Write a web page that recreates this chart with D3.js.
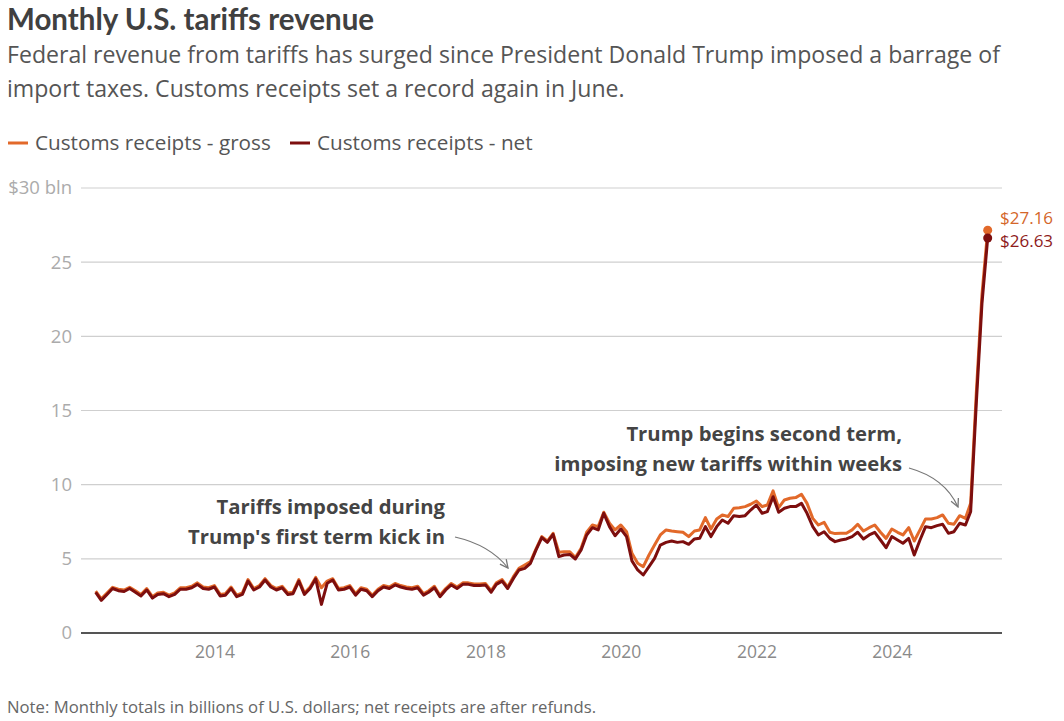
<!DOCTYPE html>
<html>
<head>
<meta charset="utf-8">
<script src="https://cdn.jsdelivr.net/npm/d3@7"></script>
<style>
  body { margin: 0; background: #fff; }
  svg { display: block; font-family: "Open Sans", "Noto Sans", sans-serif; }
</style>
</head>
<body>
<div id="chart"></div>
<script>
// monthly values, April 2012 .. June 2025, billions of dollars
const startMonth = new Date(2012, 3, 1);

const netReceipts = [
  2.74, 2.2, 2.6, 3.0, 2.85, 2.8, 3.0, 2.75, 2.5, 2.9,
  2.35, 2.6, 2.65, 2.45, 2.6, 2.95, 2.95, 3.05, 3.28, 3.0,
  2.95, 3.1, 2.5, 2.55, 3.0, 2.45, 2.6, 3.5, 2.9, 3.1,
  3.57, 3.1, 2.9, 3.05, 2.6, 2.65, 3.5, 2.6, 3.0, 3.65,
  1.93, 3.35, 3.57, 2.9, 2.95, 3.1, 2.55, 2.95, 2.85, 2.45,
  2.85, 3.1, 3.0, 3.24, 3.1, 3.0, 2.95, 3.05, 2.55, 2.75,
  3.05, 2.45, 2.9, 3.24, 3.0, 3.28, 3.28, 3.2, 3.2, 3.24,
  2.75, 3.28, 3.5, 3.0, 3.68,
  4.25, 4.36, 4.70, 5.60, 6.43, 6.11, 6.65, 5.15, 5.26, 5.30,
  4.99, 5.60, 6.61, 7.10, 6.95, 8.07, 7.17, 6.56, 7.01, 6.50,
  4.86, 4.25, 3.91, 4.47, 5.03, 5.93, 6.11, 6.20, 6.11, 6.16,
  5.98, 6.34, 6.38, 7.17, 6.50, 7.17, 7.62, 7.40, 7.91, 7.85,
  7.91, 8.29, 8.63, 8.07, 8.18, 9.19, 8.14, 8.41, 8.52, 8.52,
  8.74, 8.07, 7.17, 6.61, 6.83, 6.38, 6.16, 6.27, 6.34, 6.50,
  6.79, 6.34, 6.61, 6.79, 6.27, 5.75, 6.50, 6.27, 6.05, 6.38,
  5.26, 6.27, 7.17, 7.10, 7.24, 7.33, 6.72, 6.83, 7.40, 7.28,
  8.17, 15.6, 22.2, 26.63
];

const grossReceipts = [
  2.82, 2.3, 2.7, 3.08, 2.95, 2.9, 3.08, 2.85, 2.6, 3.0,
  2.45, 2.7, 2.75, 2.55, 2.7, 3.05, 3.05, 3.15, 3.38, 3.1,
  3.05, 3.2, 2.6, 2.65, 3.1, 2.55, 2.7, 3.6, 3.0, 3.2,
  3.66, 3.2, 3.0, 3.15, 2.7, 2.75, 3.6, 2.7, 3.1, 3.75,
  3.05, 3.5, 3.66, 3.0, 3.05, 3.2, 2.65, 3.05, 2.95, 2.55,
  2.95, 3.2, 3.1, 3.34, 3.2, 3.1, 3.05, 3.15, 2.65, 2.85,
  3.15, 2.55, 3.0, 3.34, 3.1, 3.38, 3.38, 3.3, 3.3, 3.34,
  2.85, 3.38, 3.6, 3.1, 3.8,
  4.36, 4.59, 4.81, 5.67, 6.50, 6.20, 6.72, 5.44, 5.48, 5.48,
  5.08, 5.71, 6.79, 7.28, 7.17, 8.14, 7.40, 6.95, 7.28, 6.83,
  5.37, 4.70, 4.47, 5.26, 5.93, 6.61, 6.95, 6.88, 6.83, 6.79,
  6.50, 6.88, 6.95, 7.78, 7.01, 7.69, 7.96, 7.85, 8.41, 8.45,
  8.52, 8.68, 8.90, 8.52, 8.63, 9.58, 8.45, 8.97, 9.08, 9.13,
  9.35, 8.74, 7.73, 7.28, 7.46, 6.79, 6.70, 6.72, 6.72, 6.95,
  7.33, 6.88, 7.10, 7.28, 6.79, 6.38, 7.01, 6.79, 6.61, 7.10,
  6.20, 6.95, 7.69, 7.69, 7.78, 7.96, 7.40, 7.33, 7.91, 7.73,
  8.75, 16.3, 22.8, 27.16
];

const yTicks = [0, 5, 10, 15, 20, 25, 30];
const xTickYears = [2014, 2016, 2018, 2020, 2022, 2024];

const seriesNames = ['Customs receipts - gross', 'Customs receipts - net'];
const seriesColors = ['#e2692a', '#7d0e0e'];

const W = 1064, H = 721;
const gridLeft = 81, gridRight = 1002;

const months = netReceipts.map((d, i) => d3.timeMonth.offset(startMonth, i));
const series = [grossReceipts, netReceipts].map((vals, k) => ({
  name: seriesNames[k],
  color: seriesColors[k],
  values: vals.map((v, i) => ({ date: months[i], value: v }))
}));

const x = d3.scaleTime()
  .domain([months[0], months[months.length - 1]])
  .range([95.7, 987.7]);
const y = d3.scaleLinear().domain([0, 30]).range([633, 188]);

const svg = d3.select('#chart').append('svg')
  .attr('width', W)
  .attr('height', H);

// header
svg.append('text')
  .attr('x', 7).attr('y', 29.5)
  .style('font-family', 'Lato, "Noto Sans", sans-serif')
  .style('font-size', '29.5px').style('font-weight', 'bold')
  .style('fill', '#404040')
  .text('Monthly U.S. tariffs revenue');

const subLines = [
  'Federal revenue from tariffs has surged since President Donald Trump imposed a barrage of',
  'import taxes. Customs receipts set a record again in June.'
];
svg.append('g').selectAll('text')
  .data(subLines)
  .enter().append('text')
  .attr('x', 7)
  .attr('y', (d, i) => 63 + i * 34)
  .style('font-size', '23.1px')
  .style('fill', '#555')
  .text(d => d);

// legend
const legend = svg.append('g').attr('transform', 'translate(8, 143)');
const legendX = [0, 282];
series.forEach((s, i) => {
  const g = legend.append('g').attr('transform', `translate(${legendX[i]}, 0)`);
  g.append('line')
    .attr('x1', 0).attr('x2', 20)
    .attr('stroke', s.color).attr('stroke-width', 3);
  g.append('text')
    .attr('x', 27).attr('dy', '0.35em')
    .style('font-size', '20.7px').style('fill', '#555')
    .text(s.name);
});

// y grid + labels
const yAxis = svg.append('g').attr('class', 'axis y--axis');
yAxis.selectAll('line')
  .data(yTicks)
  .enter().append('line')
  .attr('x1', gridLeft).attr('x2', gridRight)
  .attr('y1', d => y(d)).attr('y2', d => y(d))
  .attr('stroke', d => d === 0 ? '#555' : '#cfcfcf')
  .attr('stroke-width', d => d === 0 ? 2 : 1.2);
yAxis.selectAll('text')
  .data(yTicks)
  .enter().append('text')
  .attr('x', 72)
  .attr('y', d => y(d))
  .attr('dy', '0.35em')
  .style('text-anchor', 'end')
  .style('font-size', '18.5px')
  .style('fill', '#ababab')
  .text(d => d === 30 ? '$30 bln' : d);

// x axis labels
svg.append('g')
  .attr('class', 'axis x--axis')
  .attr('transform', `translate(0, ${y(0)})`)
  .call(d3.axisBottom(x)
    .tickValues(xTickYears.map(yr => new Date(yr, 0, 1)))
    .tickFormat(d3.timeFormat('%Y'))
    .tickSize(0)
    .tickPadding(13))
  .call(g => g.select('.domain').remove())
  .selectAll('text')
  .style('font-size', '17.5px')
  .style('font-family', '"Open Sans", "Noto Sans", sans-serif')
  .style('fill', '#8a8a8a');

// lines
const line = d3.line()
  .x(d => x(d.date))
  .y(d => y(d.value));

svg.append('g').selectAll('path')
  .data(series)
  .enter().append('path')
  .attr('d', d => line(d.values))
  .attr('fill', 'none')
  .attr('stroke', d => d.color)
  .attr('stroke-width', 3)
  .attr('stroke-linejoin', 'round');

// end dots + labels
const endLabelY = [218, 241];
series.forEach((s, i) => {
  const last = s.values[s.values.length - 1];
  svg.append('circle')
    .attr('cx', x(last.date)).attr('cy', y(last.value))
    .attr('r', 4.5)
    .attr('fill', s.color);
  svg.append('text')
    .attr('x', 1000).attr('y', endLabelY[i])
    .attr('dy', '0.35em')
    .style('font-size', '17px')
    .style('fill', i === 0 ? '#d4662a' : '#8e1b1b')
    .text('$' + last.value.toFixed(2));
});

// annotations
svg.append('defs').append('marker')
  .attr('id', 'arrowhead')
  .attr('viewBox', '0 0 10 10')
  .attr('refX', 9).attr('refY', 5)
  .attr('markerWidth', 10).attr('markerHeight', 10)
  .attr('markerUnits', 'userSpaceOnUse')
  .attr('orient', 'auto')
  .append('path')
  .attr('d', 'M1,1 L9,5 L1,9')
  .attr('fill', 'none')
  .attr('stroke', '#777')
  .attr('stroke-width', 1.3);

const notes = [
  { lines: ['Tariffs imposed during', "Trump's first term kick in"], x: 445, y: 507,
    path: 'M455,537 Q490,545 508,568' },
  { lines: ['Trump begins second term,', 'imposing new tariffs within weeks'], x: 902, y: 434,
    path: 'M909,468 Q945,478 958,507' }
];
notes.forEach(n => {
  svg.append('text')
    .attr('x', n.x).attr('y', n.y)
    .style('text-anchor', 'end')
    .style('font-size', '20.3px').style('font-weight', 'bold')
    .style('fill', '#444')
    .selectAll('tspan')
    .data(n.lines)
    .enter().append('tspan')
    .attr('x', n.x)
    .attr('y', (d, i) => n.y + i * 30)
    .attr('dy', '0.35em')
    .text(d => d);
  svg.append('path')
    .attr('d', n.path)
    .attr('fill', 'none')
    .attr('stroke', '#777')
    .attr('stroke-width', 1.2)
    .attr('marker-end', 'url(#arrowhead)');
});

// note
svg.append('text')
  .attr('x', 7).attr('y', 707)
  .attr('dy', '0.35em')
  .style('font-size', '16.7px')
  .style('fill', '#666')
  .text('Note: Monthly totals in billions of U.S. dollars; net receipts are after refunds.');
</script>
</body>
</html>
